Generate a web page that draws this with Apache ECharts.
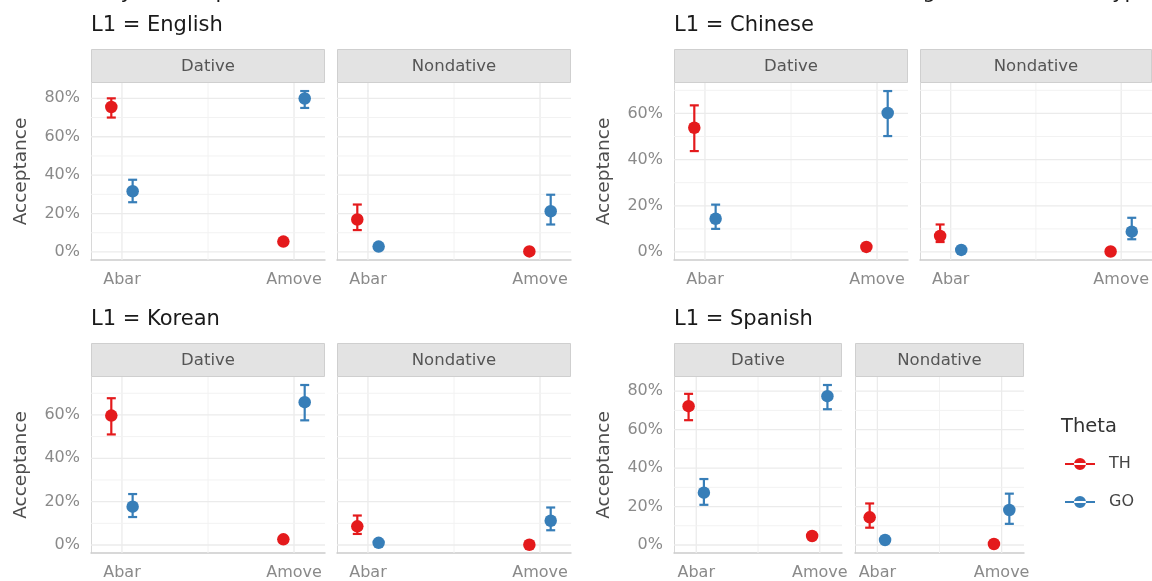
<!DOCTYPE html>
<html>
<head>
<meta charset="utf-8">
<script src="https://cdn.jsdelivr.net/npm/echarts@6/dist/echarts.min.js"></script>
<style>
  html, body { margin: 0; padding: 0; background: #ffffff; }
  #chart { width: 1152px; height: 581px; }
</style>
</head>
<body>
<div id="chart"></div>
<script>
// Categories and facets
const categories = ['Abar', 'Amove'];
const l1Groups = ['English', 'Chinese', 'Korean', 'Spanish'];
const verbTypes = ['Dative', 'Nondative'];
const thetaRoles = ['TH', 'GO'];

// Acceptance estimates: rows are Dative-Abar, Dative-Amove, Nondative-Abar, Nondative-Amove,
// each row is [estimate, lower CI, upper CI]
const englishTH = [[0.755, 0.700, 0.800], [0.054, 0.046, 0.062], [0.169, 0.114, 0.247], [0.003, 0.000, 0.007]];
const englishGO = [[0.316, 0.259, 0.376], [0.799, 0.750, 0.838], [0.028, 0.021, 0.035], [0.212, 0.143, 0.298]];
const chineseTH = [[0.538, 0.437, 0.635], [0.022, 0.015, 0.029], [0.069, 0.043, 0.119], [0.002, 0.000, 0.006]];
const chineseGO = [[0.144, 0.100, 0.205], [0.602, 0.502, 0.697], [0.009, 0.003, 0.015], [0.088, 0.055, 0.148]];
const koreanTH  = [[0.597, 0.510, 0.677], [0.026, 0.019, 0.033], [0.086, 0.051, 0.136], [0.001, 0.000, 0.005]];
const koreanGO  = [[0.177, 0.129, 0.235], [0.659, 0.575, 0.738], [0.010, 0.004, 0.016], [0.112, 0.068, 0.173]];
const spanishTH = [[0.722, 0.649, 0.786], [0.047, 0.040, 0.054], [0.144, 0.090, 0.216], [0.005, 0.000, 0.010]];
const spanishGO = [[0.272, 0.209, 0.343], [0.774, 0.706, 0.832], [0.026, 0.020, 0.032], [0.182, 0.110, 0.267]];

const estimates = {
  English: { TH: englishTH, GO: englishGO },
  Chinese: { TH: chineseTH, GO: chineseGO },
  Korean:  { TH: koreanTH,  GO: koreanGO },
  Spanish: { TH: spanishTH, GO: spanishGO }
};

// Tick values
const yMajorTicks = [0, 0.2, 0.4, 0.6, 0.8];
const yMinorTicks = [0.1, 0.3, 0.5, 0.7];
const xMajorTicks = [1, 2];
const xMinorTicks = [1.5];

// Styling / layout
const FONT = 'DejaVu Sans';
const thetaColors = { TH: '#E41A1C', GO: '#377EB8' };
const dodge = { TH: -0.062, GO: 0.062 };
const xRange = [0.82, 2.18];
const facetLayout = {
  English: { top: 83,  height: 177, lefts: [91, 337],  widths: [234, 234] },
  Chinese: { top: 83,  height: 177, lefts: [674, 920], widths: [234, 232] },
  Korean:  { top: 377, height: 178, lefts: [91, 337],  widths: [234, 234] },
  Spanish: { top: 377, height: 178, lefts: [674, 855], widths: [168, 169] }
};
const stripHeight = 34;

// grid line kinds: 0 minor vertical, 1 major vertical, 2 minor horizontal, 3 major horizontal
function panelGridLine(params, api) {
  const v = api.value(0);
  const kind = api.value(1);
  const cs = params.coordSys;
  const style = { stroke: kind % 2 ? '#ebebeb' : '#f2f2f2', lineWidth: kind % 2 ? 1.3 : 1 };
  if (kind < 2) {
    const x = api.coord([v, 0])[0];
    return { type: 'line', shape: { x1: x, y1: cs.y, x2: x, y2: cs.y + cs.height }, style };
  }
  const y = api.coord([1, v])[1];
  return { type: 'line', shape: { x1: cs.x, y1: y, x2: cs.x + cs.width, y2: y }, style };
}

function errorBar(params, api) {
  const x = api.value(0);
  const lo = api.coord([x, api.value(1)]);
  const hi = api.coord([x, api.value(2)]);
  const half = 4.5;
  const style = { stroke: api.visual('color'), lineWidth: 2.2 };
  return {
    type: 'group',
    children: [
      { type: 'line', shape: { x1: lo[0], y1: lo[1], x2: hi[0], y2: hi[1] }, style },
      { type: 'line', shape: { x1: lo[0] - half, y1: lo[1], x2: lo[0] + half, y2: lo[1] }, style },
      { type: 'line', shape: { x1: hi[0] - half, y1: hi[1], x2: hi[0] + half, y2: hi[1] }, style }
    ]
  };
}

const grids = [], xAxes = [], yAxes = [], series = [], graphics = [];

// Overall heading (sits partly above the canvas edge)
graphics.push({
  type: 'text', x: 22, y: 3, silent: true,
  style: {
    text: 'Probability of acceptance of Theta roles in Abar and Amove sentences across L1 background and Verb type',
    font: '21px "' + FONT + '"', fill: '#1a1a1a', align: 'left', verticalAlign: 'bottom'
  }
});

l1Groups.forEach((l1, i) => {
  const lay = facetLayout[l1];
  // y range: data extent expanded by 5%
  let lo = Infinity, hi = -Infinity;
  thetaRoles.forEach(t => estimates[l1][t].forEach(r => { lo = Math.min(lo, r[1]); hi = Math.max(hi, r[2]); }));
  const pad = (hi - lo) * 0.05;
  const yMin = lo - pad, yMax = hi + pad;

  graphics.push({
    type: 'text', x: lay.lefts[0], y: lay.top - stripHeight - 23, silent: true,
    style: { text: 'L1 = ' + l1, font: '21px "' + FONT + '"', fill: '#1a1a1a', align: 'left', verticalAlign: 'middle' }
  });

  verbTypes.forEach((vt, j) => {
    const g = i * 2 + j;
    const left = lay.lefts[j], width = lay.widths[j];
    grids.push({ left: left, top: lay.top, width: width, height: lay.height });

    // facet strip
    graphics.push({
      type: 'rect', silent: true,
      shape: { x: left + 0.5, y: lay.top - stripHeight + 0.5, width: width - 1, height: stripHeight - 1 },
      style: { fill: '#e3e3e3', stroke: '#cfcfcf', lineWidth: 1 }
    });
    graphics.push({
      type: 'text', silent: true, x: left + width / 2, y: lay.top - stripHeight / 2 + 1,
      style: { text: vt, font: '16.5px "' + FONT + '"', fill: '#555555', align: 'center', verticalAlign: 'middle' }
    });

    xAxes.push({
      type: 'value', gridIndex: g, min: xRange[0], max: xRange[1],
      axisLine: { show: true, onZero: false, lineStyle: { color: '#cccccc', width: 1.5 } },
      axisTick: { show: false },
      splitLine: { show: false },
      axisLabel: {
        customValues: xMajorTicks, margin: 12,
        formatter: v => categories[Math.round(v) - 1],
        color: '#8a8a8a', fontFamily: FONT, fontSize: 16
      }
    });
    yAxes.push({
      type: 'value', gridIndex: g, min: yMin, max: yMax,
      name: j === 0 ? 'Acceptance' : '',
      nameLocation: 'middle', nameGap: 60, nameRotate: 90,
      nameTextStyle: { color: '#4d4d4d', fontFamily: FONT, fontSize: 18.5 },
      axisLine: { show: true, onZero: false, lineStyle: { color: '#d8d8d8', width: 1 } },
      axisTick: { show: false },
      splitLine: { show: false },
      axisLabel: {
        show: j === 0, customValues: yMajorTicks.filter(v => v <= yMax), margin: 11,
        formatter: v => Math.round(v * 100) + '%',
        color: '#8a8a8a', fontFamily: FONT, fontSize: 16
      }
    });

    // panel grid lines
    const gridLines = [];
    xMinorTicks.forEach(v => gridLines.push([v, 0]));
    xMajorTicks.forEach(v => gridLines.push([v, 1]));
    yMinorTicks.filter(v => v <= yMax).forEach(v => gridLines.push([v, 2]));
    yMajorTicks.filter(v => v <= yMax).forEach(v => gridLines.push([v, 3]));
    series.push({
      type: 'custom', name: 'grid lines', xAxisIndex: g, yAxisIndex: g, z: 1,
      renderItem: panelGridLine, data: gridLines, silent: true, animation: false,
      encode: { x: -1, y: -1 }, clip: false
    });

    thetaRoles.forEach(t => {
      const rows = estimates[l1][t].slice(j * 2, j * 2 + 2);
      series.push({
        type: 'custom', name: t + ' interval', xAxisIndex: g, yAxisIndex: g, z: 2,
        renderItem: errorBar, itemStyle: { color: thetaColors[t] },
        encode: { x: 0, y: [1, 2] },
        data: rows.map((r, k) => [k + 1 + dodge[t], r[1], r[2]]),
        silent: true, animation: false
      });
      series.push({
        type: 'scatter', name: t, xAxisIndex: g, yAxisIndex: g, z: 3,
        symbol: 'circle', symbolSize: 12.5,
        itemStyle: { color: thetaColors[t], opacity: 1 },
        data: rows.map((r, k) => [k + 1 + dodge[t], r[0]]),
        animation: false
      });
    });
  });
});

const legendIcon = 'path://M0,5H30V7H0Z M9,6A6,6,0,1,0,21,6A6,6,0,1,0,9,6Z';

const option = {
  backgroundColor: '#ffffff',
  animation: false,
  title: [{
    text: 'Theta', left: 1061, top: 417, padding: 0,
    textStyle: { fontFamily: FONT, fontSize: 19.5, fontWeight: 'normal', color: '#333333' }
  }],
  legend: {
    orient: 'vertical', left: 1065, top: 456, padding: 0,
    itemWidth: 30, itemHeight: 12, itemGap: 22,
    data: thetaRoles.map(t => ({ name: t, icon: legendIcon })),
    textStyle: { fontFamily: FONT, fontSize: 16, color: '#444444', padding: [0, 0, 0, 9] },
    selectedMode: false
  },
  grid: grids,
  xAxis: xAxes,
  yAxis: yAxes,
  series: series,
  graphic: graphics
};

const chart = echarts.init(document.getElementById('chart'), null, { renderer: 'canvas' });
chart.setOption(option);
</script>
</body>
</html>
